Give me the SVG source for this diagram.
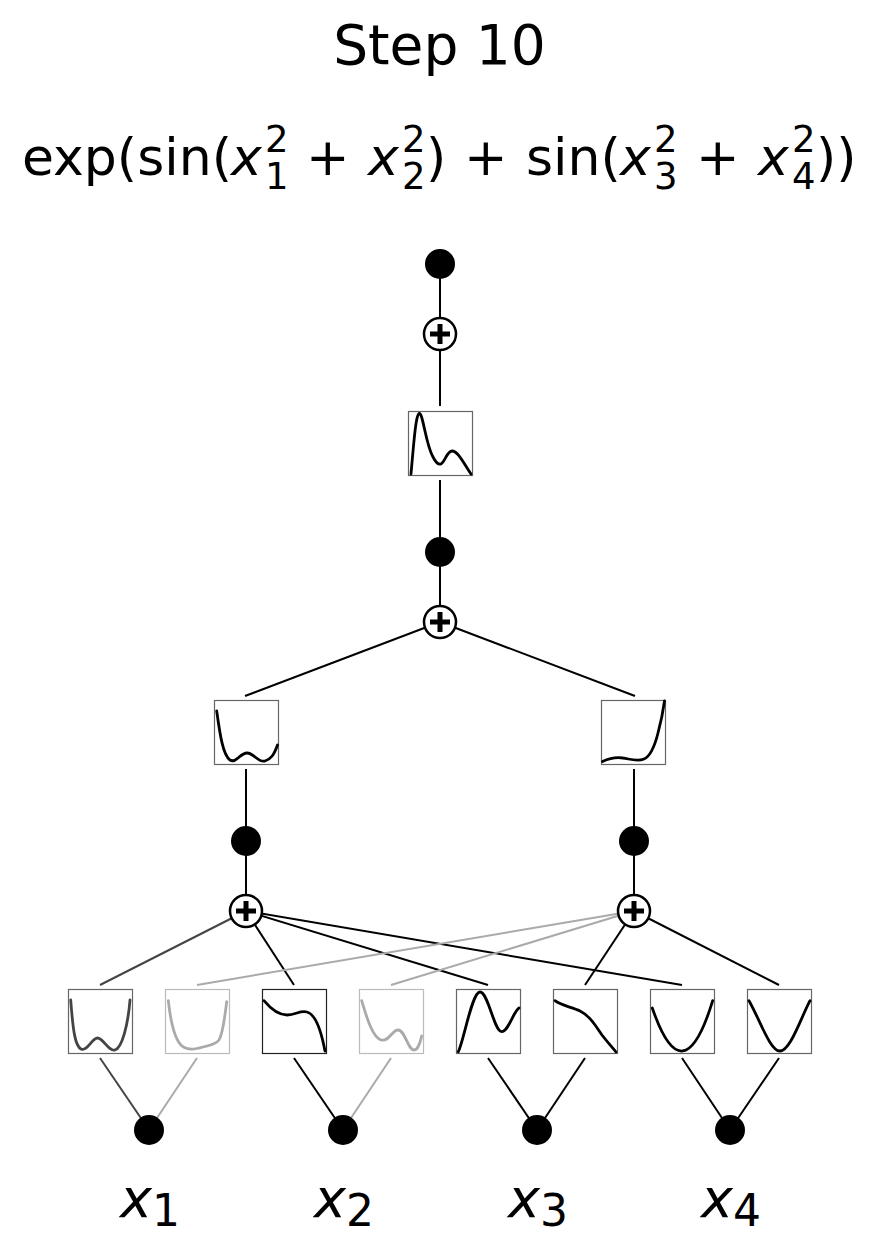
<svg xmlns="http://www.w3.org/2000/svg" width="879" height="1249" viewBox="0 0 879 1249">
<style>
.t{font-family:"DejaVu Sans",sans-serif;fill:#000}
.i{font-style:italic}
.dot{fill:#000}
.plus circle{fill:#fff;stroke:#000;stroke-width:2.5}
.plus path{stroke:#000;stroke-width:5;fill:none}
.box{fill:#fff;stroke:#666;stroke-width:1.2}
.curve{fill:none;stroke:#000;stroke-width:2.8;stroke-linecap:round;stroke-linejoin:round}
.e{stroke:#000;stroke-width:2;fill:none}
.dim{stroke:#aaa}
.mid{stroke:#444}
.sc{font-size:37px}
</style>
<rect width="879" height="1249" fill="#fff"/>
<g id="title">
<text class="t" x="439.5" y="64" font-size="55" text-anchor="middle">Step 10</text>
</g>
<g id="formula" class="t" font-size="52">
<text x="22" y="175">exp(sin(</text>
<text class="i" x="231" y="175">x</text>
<text class="sc" x="265" y="152">2</text>
<text class="sc" x="265" y="189">1</text>
<text x="306" y="175">+</text>
<text class="i" x="368" y="175">x</text>
<text class="sc" x="402" y="152">2</text>
<text class="sc" x="402" y="189">2</text>
<text x="426" y="175">)</text>
<text x="464" y="175">+</text>
<text x="526" y="175">sin(</text>
<text class="i" x="620" y="175">x</text>
<text class="sc" x="654" y="152">2</text>
<text class="sc" x="654" y="189">3</text>
<text x="696" y="175">+</text>
<text class="i" x="758" y="175">x</text>
<text class="sc" x="792" y="152">2</text>
<text class="sc" x="792" y="189">4</text>
<text x="816" y="175">))</text>
</g>
<g id="connectors">
<line class="e" x1="440" y1="264" x2="440" y2="334"/>
<line class="e" x1="440" y1="334" x2="440" y2="406"/>
<line class="e" x1="440" y1="480" x2="440" y2="552"/>
<line class="e" x1="440" y1="552" x2="440" y2="622"/>
<line class="e" x1="440" y1="622" x2="245" y2="696"/>
<line class="e" x1="440" y1="622" x2="635" y2="696"/>
<line class="e" x1="246" y1="769" x2="246" y2="841"/>
<line class="e" x1="246" y1="841" x2="246" y2="911"/>
<line class="e" x1="634" y1="769" x2="634" y2="841"/>
<line class="e" x1="634" y1="841" x2="634" y2="911"/>
<line class="e mid" x1="246" y1="911" x2="100" y2="985"/>
<line class="e" x1="246" y1="911" x2="294" y2="985"/>
<line class="e" x1="246" y1="911" x2="488" y2="985"/>
<line class="e" x1="246" y1="911" x2="682" y2="985"/>
<line class="e dim" x1="634" y1="911" x2="197" y2="985"/>
<line class="e dim" x1="634" y1="911" x2="391" y2="985"/>
<line class="e" x1="634" y1="911" x2="585" y2="985"/>
<line class="e" x1="634" y1="911" x2="779" y2="985"/>
<line class="e mid" x1="100" y1="1058" x2="149" y2="1130"/>
<line class="e dim" x1="197" y1="1058" x2="149" y2="1130"/>
<line class="e" x1="294" y1="1058" x2="343" y2="1130"/>
<line class="e dim" x1="391" y1="1058" x2="343" y2="1130"/>
<line class="e" x1="488" y1="1058" x2="537" y2="1130"/>
<line class="e" x1="585" y1="1058" x2="537" y2="1130"/>
<line class="e" x1="682" y1="1058" x2="730" y2="1130"/>
<line class="e" x1="779" y1="1058" x2="730" y2="1130"/>
</g>
<g id="out"><circle class="dot" cx="440" cy="264" r="15"/></g>
<g id="sum_top" class="plus"><circle cx="440" cy="334" r="16"/><path d="M430,334H450M440,324V344"/></g>
<g id="fn_top">
<rect class="box" x="408.5" y="411.5" width="64" height="64"/>
<path class="curve" d="M411,474 C414,440 416,413 419.5,413.5 C423,414 426,445 433,457 C436,463 438,465 441,464 C445,462 447,451 452,451 C458,451 463,462 471,474"/>
</g>
<g id="hidden"><circle class="dot" cx="440" cy="552" r="15"/></g>
<g id="sum_mid" class="plus"><circle cx="440" cy="622" r="16"/><path d="M430,622H450M440,612V632"/></g>
<g id="fn_mid_l">
<rect class="box" x="214.5" y="700.5" width="64" height="64"/>
<path class="curve" d="M216.7,711 C220,735 223,755 230,760 C236,764 240,753 247,753 C254,753 258,763 265,761 C271,759 274,755 277.5,745"/>
</g>
<g id="fn_mid_r">
<rect class="box" x="601.5" y="700.5" width="64" height="64"/>
<path class="curve" d="M602.5,761.5 C610,758 617,757 623,758 C630,759 637,762 644,759 C651,756 655,745 658,733 C661,722 663,712 664.5,701"/>
</g>
<g id="node_l"><circle class="dot" cx="246" cy="841" r="15"/></g>
<g id="node_r"><circle class="dot" cx="634" cy="841" r="15"/></g>
<g id="sum_l" class="plus"><circle cx="246" cy="911" r="16"/><path d="M236,911H256M246,901V921"/></g>
<g id="sum_r" class="plus"><circle cx="634" cy="911" r="16"/><path d="M624,911H644M634,901V921"/></g>
<g id="fn1">
<rect class="box" x="68.5" y="989.5" width="64" height="64"/>
<path class="curve" style="stroke:#444" d="M70.7,1000 C73,1030 75,1046 81,1049 C87,1052 92,1038 97.5,1038 C103,1038 109,1052 115,1050 C122,1048 128,1025 130,1000"/>
</g>
<g id="fn2">
<rect class="box" style="stroke:#bbb" x="165.5" y="989.5" width="64" height="64"/>
<path class="curve" style="stroke:#aaa" d="M168.3,1000.7 C171,1025 175,1040 182,1046 C188,1051 196,1049 203,1047 C210,1045 215,1045 219,1040 C223,1034 225,1015 226.7,1001.7"/>
</g>
<g id="fn3">
<rect class="box" style="stroke:#222" x="262.5" y="989.5" width="64" height="64"/>
<path class="curve" d="M264,1000.7 C270,1008 278,1015 287,1015 C296,1015 300,1010 307,1012 C315,1014 321,1030 325,1051"/>
</g>
<g id="fn4">
<rect class="box" style="stroke:#bbb" x="359.5" y="989.5" width="64" height="64"/>
<path class="curve" style="stroke:#aaa" d="M361.7,1000.7 C366,1015 372,1037 381,1040 C389,1042 392,1030 398,1030 C405,1030 408,1050 414,1050 C418,1050 420,1043 421.7,1036"/>
</g>
<g id="fn5">
<rect class="box" x="456.5" y="989.5" width="64" height="64"/>
<path class="curve" d="M458.3,1051.7 C464,1040 472,992 480,992 C488,992 494,1030 501,1031.5 C508,1033 513,1012 519,1008"/>
</g>
<g id="fn6">
<rect class="box" x="553.5" y="989.5" width="64" height="64"/>
<path class="curve" d="M555,1000.7 C562,1006 572,1007 580,1011 C590,1016 595,1025 602,1035 C608,1043 613,1048 616,1052"/>
</g>
<g id="fn7">
<rect class="box" x="650.5" y="989.5" width="64" height="64"/>
<path class="curve" d="M652.3,1008 Q683,1097.6 712.7,1000.7"/>
</g>
<g id="fn8">
<rect class="box" x="747.5" y="989.5" width="64" height="64"/>
<path class="curve" d="M749,1000.7 C760,1020 770,1051 780,1051 C790,1051 800,1020 810,1000.7"/>
</g>
<g id="in1"><circle class="dot" cx="149" cy="1130" r="15"/><text class="t" x="120" y="1217" font-size="54"><tspan class="i">x</tspan><tspan font-size="44" dy="9">1</tspan></text></g>
<g id="in2"><circle class="dot" cx="343" cy="1130" r="15"/><text class="t" x="314" y="1217" font-size="54"><tspan class="i">x</tspan><tspan font-size="44" dy="9">2</tspan></text></g>
<g id="in3"><circle class="dot" cx="537" cy="1130" r="15"/><text class="t" x="508" y="1217" font-size="54"><tspan class="i">x</tspan><tspan font-size="44" dy="9">3</tspan></text></g>
<g id="in4"><circle class="dot" cx="730" cy="1130" r="15"/><text class="t" x="701" y="1217" font-size="54"><tspan class="i">x</tspan><tspan font-size="44" dy="9">4</tspan></text></g>
</svg>
